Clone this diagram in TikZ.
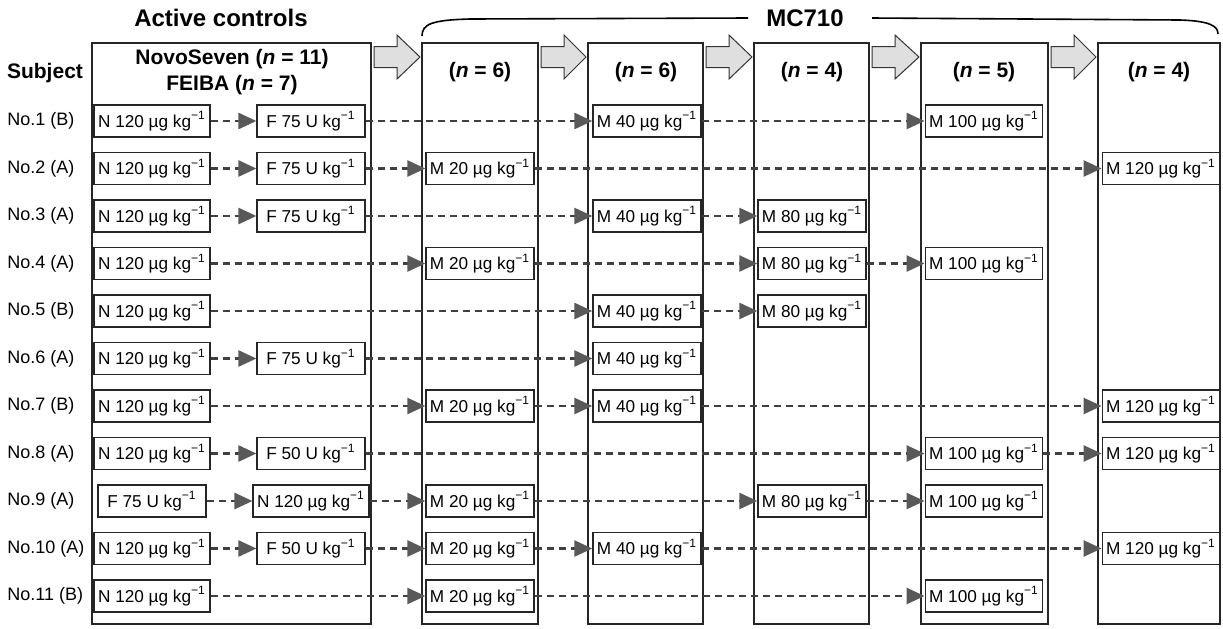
\documentclass[tikz,border=0pt]{standalone}
\usepackage{fontspec}
\setmainfont{Liberation Sans}
\usetikzlibrary{arrows.meta}
\newcommand{\perkg}{kg\textsuperscript{−1}}
\tikzset{
  panel/.style={draw=black!85, line width=1pt},
  dose/.style={draw=black!85, line width=0.6pt, minimum height=16pt, inner xsep=2pt, inner ysep=0pt, font=\fontsize{8.6}{10}\selectfont},
  actdose/.style={dose, minimum width=54pt},
  hop/.style={draw=black!75, line width=1.3pt, dash pattern=on 3.5pt off 2.5pt, -{Triangle[length=9pt,width=8pt,color=gray!70!black,fill=gray!70!black]}},
  head/.style={font=\bfseries\fontsize{10.5}{12}\selectfont},
  title/.style={font=\bfseries\fontsize{12}{14}\selectfont},
  subj/.style={anchor=west, inner xsep=0pt, font=\fontsize{9}{10}\selectfont},
  fat/.style={draw=black!80, line width=0.5pt, fill=gray!25},
}
\begin{document}
\begin{tikzpicture}[x=0.5pt,y=-0.5pt]
  \useasboundingbox (0,0) rectangle (1223,628);
  % titles and brace
  \node[title] (actv) at (221,18) {Active controls};
  \node[title] (mc) at (805,18) {MC710};
  \draw[line width=0.8pt] (422,36) .. controls (422,24) and (432,20) .. (470,19) -- (748,18);
  \draw[line width=0.8pt] (872,18) -- (1180,20) .. controls (1210,21) and (1218,26) .. (1218,34);
  % panels
  \draw[panel] (92,43) rectangle (371,624);
  \draw[panel] (422,43) rectangle (538,624);
  \draw[panel] (588,43) rectangle (703,624);
  \draw[panel] (754,43) rectangle (869,624);
  \draw[panel] (921,43) rectangle (1048,624);
  \draw[panel] (1098,43) rectangle (1220,624);
  \foreach \a/\b in {371/422,538/588,703/754,869/921,1048/1098}
    \draw[fat] ({\a+3},46.5) -- ({\a+26},46.5) -- ({\a+26},35) -- ({\b-2},57)
      -- ({\a+26},79) -- ({\a+26},67.5) -- ({\a+3},67.5) -- cycle;
  \node[head] (subject) at (45,73) {Subject};
  \node[head] (hnovo) at (232,59) {NovoSeven (\textit{n} = 11)};
  \node[head] (hfeiba) at (232,85) {FEIBA (\textit{n} = 7)};
  \node[head] (ha) at (480,72) {(\textit{n} = 6)};
  \node[head] (hb) at (646,72) {(\textit{n} = 6)};
  \node[head] (hc) at (812,72) {(\textit{n} = 4)};
  \node[head] (hd) at (984,72) {(\textit{n} = 5)};
  \node[head] (he) at (1159,72) {(\textit{n} = 4)};
  \foreach \i/\y/\g in {1/121/B,2/168.5/A,3/216/A,4/263.5/A,5/311/B,6/358.5/A,
      7/406/B,8/453.5/A,9/501/A,10/548.5/A,11/596/B}
    \node[subj] (s\i) at (7,\y) {No.\i\ (\g)};
  % doses
  \node[actdose] (n1) at (152,121) {N 120 µg \perkg};
  \node[actdose] (f1) at (311,121) {F 75 U \perkg};
  \node[dose] (m1b) at (647,121) {M 40 µg \perkg};
  \node[dose] (m1d) at (984,121) {M 100 µg \perkg};
  \node[actdose] (n2) at (152,168.5) {N 120 µg \perkg};
  \node[actdose] (f2) at (311,168.5) {F 75 U \perkg};
  \node[dose] (m2a) at (480,168.5) {M 20 µg \perkg};
  \node[dose] (m2e) at (1161,168.5) {M 120 µg \perkg};
  \node[actdose] (n3) at (152,216) {N 120 µg \perkg};
  \node[actdose] (f3) at (311,216) {F 75 U \perkg};
  \node[dose] (m3b) at (647,216) {M 40 µg \perkg};
  \node[dose] (m3c) at (812,216) {M 80 µg \perkg};
  \node[actdose] (n4) at (152,263.5) {N 120 µg \perkg};
  \node[dose] (m4a) at (480,263.5) {M 20 µg \perkg};
  \node[dose] (m4c) at (812,263.5) {M 80 µg \perkg};
  \node[dose] (m4d) at (984,263.5) {M 100 µg \perkg};
  \node[actdose] (n5) at (152,311) {N 120 µg \perkg};
  \node[dose] (m5b) at (647,311) {M 40 µg \perkg};
  \node[dose] (m5c) at (812,311) {M 80 µg \perkg};
  \node[actdose] (n6) at (152,358.5) {N 120 µg \perkg};
  \node[actdose] (f6) at (311,358.5) {F 75 U \perkg};
  \node[dose] (m6b) at (647,358.5) {M 40 µg \perkg};
  \node[actdose] (n7) at (152,406) {N 120 µg \perkg};
  \node[dose] (m7a) at (480,406) {M 20 µg \perkg};
  \node[dose] (m7b) at (647,406) {M 40 µg \perkg};
  \node[dose] (m7e) at (1161,406) {M 120 µg \perkg};
  \node[actdose] (n8) at (152,453.5) {N 120 µg \perkg};
  \node[actdose] (f8) at (311,453.5) {F 50 U \perkg};
  \node[dose] (m8d) at (984,453.5) {M 100 µg \perkg};
  \node[dose] (m8e) at (1161,453.5) {M 120 µg \perkg};
  \node[actdose] (f9) at (152,501) {F 75 U \perkg};
  \node[actdose] (n9) at (311,501) {N 120 µg \perkg};
  \node[dose] (m9a) at (480,501) {M 20 µg \perkg};
  \node[dose] (m9c) at (812,501) {M 80 µg \perkg};
  \node[dose] (m9d) at (984,501) {M 100 µg \perkg};
  \node[actdose] (n10) at (152,548.5) {N 120 µg \perkg};
  \node[actdose] (f10) at (311,548.5) {F 50 U \perkg};
  \node[dose] (m10a) at (480,548.5) {M 20 µg \perkg};
  \node[dose] (m10b) at (647,548.5) {M 40 µg \perkg};
  \node[dose] (m10e) at (1161,548.5) {M 120 µg \perkg};
  \node[actdose] (n11) at (152,596) {N 120 µg \perkg};
  \node[dose] (m11a) at (480,596) {M 20 µg \perkg};
  \node[dose] (m11d) at (984,596) {M 100 µg \perkg};
  % switches
  \foreach \p/\q in {n1/f1,f1/m1b,m1b/m1d, n2/f2,f2/m2a,m2a/m2e, n3/f3,f3/m3b,m3b/m3c,
      n4/m4a,m4a/m4c,m4c/m4d, n5/m5b,m5b/m5c, n6/f6,f6/m6b, n7/m7a,m7a/m7b,m7b/m7e,
      n8/f8,f8/m8d,m8d/m8e, f9/n9,n9/m9a,m9a/m9c,m9c/m9d, n10/f10,f10/m10a,m10a/m10b,m10b/m10e,
      n11/m11a,m11a/m11d}
    \draw[hop] (\p) -- (\q);
\end{tikzpicture}
\end{document}
